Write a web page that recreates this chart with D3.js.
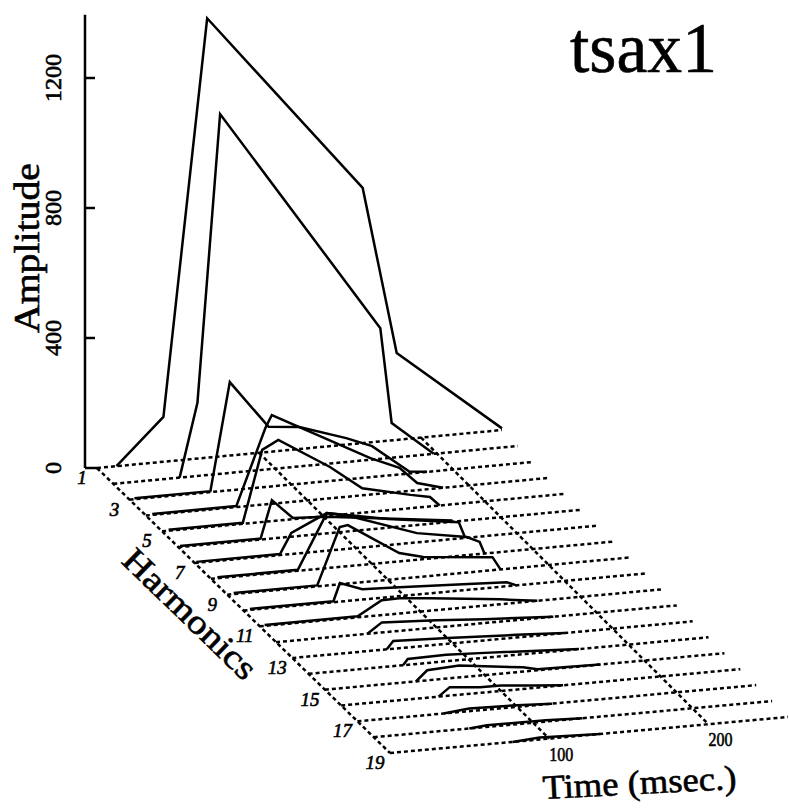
<!DOCTYPE html>
<html>
<head>
<meta charset="utf-8">
<script src="https://cdn.jsdelivr.net/npm/d3@7"></script>
<style>
  html, body { margin: 0; padding: 0; background: #fff; }
  svg { display: block; }
  text { font-family: "Liberation Serif", "DejaVu Serif", serif; fill: #000; stroke: #000; stroke-width: 0.6px; }
</style>
</head>
<body>
<svg id="chart" width="789" height="809"></svg>
<script>
// Harmonic numbers, time ticks (msec) and amplitude ticks
const harmonics = d3.range(1, 20);
const harmonicLabels = [1, 3, 5, 7, 9, 11, 13, 15, 17, 19];
const timeTicks = [100, 200];
const ampTicks = [0, 400, 800, 1200];

// Amplitude envelopes: [time (msec), amplitude] breakpoints for each harmonic
const h1  = [[12,0],[41,138],[68,1352],[164,785],[185,267],[250,5]];
const h2  = [[41,0],[52,225],[66,1107],[165,402],[172,107],[198,0]];
const h3  = [[3,3],[50,3],[62,333],[86,184],[105,175],[134,127],[150,95],[173,6],[184,0]];
const h4  = [[4,3],[56,3],[74,235],[78,273],[139,112],[157,74],[168,22],[184,0]];
const h5  = [[4,3],[50,3],[62,222],[72,248],[104,150],[124,75],[154,41],[166,29],[172,0]];
const h6  = [[1,3],[51,3],[58,118],[71,57],[92,51],[170,4]];
const h7  = [[1,3],[53,3],[60,65],[82,116],[120,80],[164,50],[168,0]];
const h8  = [[4,3],[54,3],[72,169],[84,157],[128,82],[159,56],[167,37],[170,0]];
const h9  = [[4,3],[56,3],[70,176],[75,180],[107,79],[122,60],[165,40],[170,0]];
const h10 = [[4,3],[56,3],[60,57],[74,32],[97,27],[140,18],[164,12],[170,0]];
const h11 = [[3,3],[61,3],[76,46],[87,47],[106,38],[150,15],[173,0]];
const h12 = [[57,0],[66,31],[100,22],[130,12],[173,0]];
const h13 = [[59,0],[63,24],[97,18],[140,8],[170,0]];
const h14 = [[59,0],[62,18],[86,20],[110,15],[169,0]];
const h15 = [[57,0],[64,31],[84,37],[124,13],[133,3],[172,0]];
const h16 = [[61,0],[68,26],[87,17],[100,17],[120,8],[139,0]];
const h17 = [[54,0],[70,8],[100,5],[122,0]];
const h18 = [[60,0],[71,5],[108,4],[131,0]];
const h19 = [[77,0],[94,6],[132,0]];
const envelopes = [h1,h2,h3,h4,h5,h6,h7,h8,h9,h10,h11,h12,h13,h14,h15,h16,h17,h18,h19];

const svg = d3.select("#chart");

// Oblique projection: harmonic moves the row origin down-right,
// time runs along the (slightly rising) row, amplitude goes straight up.
const rowX   = d3.scaleLinear().domain([1, 19]).range([97, 390]);
const rowY   = d3.scaleLinear().domain([1, 19]).range([468, 753]);
const rowLen = d3.scaleLinear().domain([1, 19]).range([405, 398]);
const rowRise= d3.scaleLinear().domain([1, 19]).range([38, 36]);
const tFrac  = d3.scaleLinear().domain([0, 250]).range([0, 1]);
const aScale = d3.scaleLinear().domain([0, 1400]).range([0, 455]);

const px = (h, t) => rowX(h) + tFrac(t) * rowLen(h);
const py = (h, t, a) => rowY(h) - tFrac(t) * rowRise(h) - aScale(a);

const dash = "4,3";
const sw = 2.5;
const axisX = 85;

// Floor grid: one dashed line per harmonic
svg.append("g").selectAll("line").data(harmonics).join("line")
  .attr("x1", h => px(h, 0)).attr("y1", h => py(h, 0, 0))
  .attr("x2", h => px(h, 250)).attr("y2", h => py(h, 250, 0))
  .attr("stroke", "#000").attr("stroke-width", sw).attr("stroke-dasharray", dash);

// Dashed diagonals at time 0, 100 and 200
svg.append("g").selectAll("line").data([0, ...timeTicks]).join("line")
  .attr("x1", t => px(1, t)).attr("y1", t => py(1, t, 0))
  .attr("x2", t => px(19, t)).attr("y2", t => py(19, t, 0))
  .attr("stroke", "#000").attr("stroke-width", sw).attr("stroke-dasharray", dash);

// Amplitude axis with inward ticks
const ay = a => py(1, 0, a);
svg.append("line")
  .attr("x1", axisX).attr("y1", ay(1395)).attr("x2", axisX).attr("y2", ay(0))
  .attr("stroke", "#000").attr("stroke-width", sw);
svg.append("line")
  .attr("x1", axisX).attr("y1", ay(0)).attr("x2", px(1, 0)).attr("y2", ay(0))
  .attr("stroke", "#000").attr("stroke-width", sw);
svg.append("g").selectAll("line").data(ampTicks.filter(d => d > 0)).join("line")
  .attr("x1", axisX).attr("x2", axisX + 10)
  .attr("y1", d => ay(d)).attr("y2", d => ay(d))
  .attr("stroke", "#000").attr("stroke-width", sw);
svg.append("g").selectAll("text").data(ampTicks).join("text")
  .attr("transform", d => `translate(61,${ay(d)}) rotate(-90)`)
  .attr("text-anchor", "middle")
  .attr("font-size", 24)
  .text(d => d);

svg.append("text")
  .attr("transform", "translate(39,248) rotate(-90)")
  .attr("text-anchor", "middle")
  .attr("font-size", 35)
  .attr("textLength", 170).attr("lengthAdjust", "spacingAndGlyphs")
  .text("Amplitude");

// Harmonic envelopes
const line = d3.line();
svg.append("g").selectAll("path").data(envelopes).join("path")
  .attr("d", (env, i) => line(env.map(([t, a]) => [px(i + 1, t), py(i + 1, t, a)])))
  .attr("fill", "none").attr("stroke", "#000").attr("stroke-width", sw)
  .attr("stroke-linejoin", "miter");

// Harmonic labels
svg.append("g").selectAll("text").data(harmonicLabels).join("text")
  .attr("x", h => px(h, 0) - 15).attr("y", h => py(h, 0, 0) + 16)
  .attr("text-anchor", "middle")
  .attr("font-size", 19).attr("font-style", "italic")
  .text(h => h);

svg.append("text")
  .attr("transform", "translate(182,622) rotate(44)")
  .attr("text-anchor", "middle")
  .attr("font-size", 34)
  .attr("textLength", 172).attr("lengthAdjust", "spacingAndGlyphs")
  .text("Harmonics");

// Time tick labels below the last row
svg.append("g").selectAll("text").data(timeTicks).join("text")
  .attr("x", t => px(19, t) + 12).attr("y", t => py(19, t, 0) + 22)
  .attr("text-anchor", "middle")
  .attr("font-size", 19)
  .attr("textLength", 24).attr("lengthAdjust", "spacingAndGlyphs")
  .text(t => t);

svg.append("text")
  .attr("transform", "translate(640,794) rotate(-3)")
  .attr("text-anchor", "middle")
  .attr("font-size", 34)
  .attr("textLength", 194).attr("lengthAdjust", "spacingAndGlyphs")
  .text("Time (msec.)");

// Title
svg.append("text")
  .attr("x", 570).attr("y", 72)
  .attr("font-size", 72)
  .attr("stroke-width", 1.2)
  .attr("textLength", 147).attr("lengthAdjust", "spacingAndGlyphs")
  .text("tsax1");
</script>
</body>
</html>
